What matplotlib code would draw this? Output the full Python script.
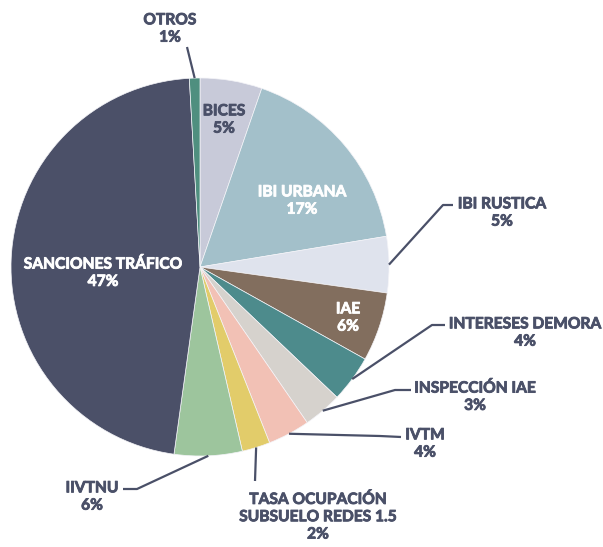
import matplotlib
matplotlib.use("Agg")
import matplotlib.pyplot as plt
import matplotlib.patheffects as pe
import numpy as np

categories = ["BICES", "IBI URBANA", "IBI RUSTICA", "IAE", "INTERESES DEMORA",
              "INSPECCIÓN IAE", "IVTM", "TASA OCUPACIÓN\nSUBSUELO REDES 1.5",
              "IIVTNU", "SANCIONES TRÁFICO", "OTROS"]
values = [5.3, 17.1, 4.8, 5.9, 4.0, 3.3, 3.6, 2.4, 5.8, 46.9, 0.9]
colors = ["#c8cad9", "#a3c0ca", "#dfe3ed", "#826e5e", "#4d8b8c", "#d6d2cd",
          "#f2c1b5", "#e2cc6a", "#9dc59d", "#4b5068", "#4f8f7f"]

W, H = 603, 547
fig = plt.figure(figsize=(W / 100, H / 100), dpi=100)
ax = fig.add_axes([0, 0, 1, 1])

cx, cy, R = 200, H - 267, 189
wedges, _ = ax.pie(values, colors=colors, startangle=90, counterclock=False,
                   center=(cx, cy), radius=R, frame=True,
                   wedgeprops=dict(edgecolor="#f4f4f8", linewidth=0.5))
ax.set_xlim(0, W)
ax.set_ylim(0, H)
ax.set_aspect("equal")
ax.axis("off")

FONT = ["Lato", "DejaVu Sans"]
dark = "#4a5068"
total = sum(values)

def pct(v):
    return f"{round(v / total * 100):d}%"

# label layout (pixel coords, y from top): text center, elbow points, text color
layout = {
    "OTROS": dict(pos=(170, 29), path=[(187, 47)], color=dark),
    "BICES": dict(pos=(224, 120), path=None, color=dark),
    "IBI URBANA": dict(pos=(302, 201), path=None, color="white"),
    "IBI RUSTICA": dict(pos=(502, 213), path=[(443, 205), (453, 205)], color=dark),
    "IAE": dict(pos=(348, 318), path=None, color="white"),
    "INTERESES DEMORA": dict(pos=(525, 333), path=[(432, 325), (445, 325)], color=dark),
    "INSPECCIÓN IAE": dict(pos=(475, 397), path=[(395, 390), (411, 390)], color=dark),
    "IVTM": dict(pos=(425, 444), path=[(380, 436), (401, 437)], color=dark),
    "TASA OCUPACIÓN\nSUBSUELO REDES 1.5": dict(pos=(318, 517), path=[(255, 481)], color=dark),
    "IIVTNU": dict(pos=(92, 497), path=[(137, 489), (123, 489)], color=dark),
    "SANCIONES TRÁFICO": dict(pos=(103, 273), path=None, color="white"),
}

for w, cat, v in zip(wedges, categories, values):
    L = layout[cat]
    tx, ty = L["pos"]
    ax.text(tx, H - ty, f"{cat}\n{pct(v)}", ha="center", va="center",
            fontsize=11.2, fontweight="bold", color=L["color"], family=FONT,
            linespacing=1.3,
            path_effects=[pe.withStroke(linewidth=0.6, foreground=L["color"])])
    if L["path"]:
        ang = np.deg2rad((w.theta1 + w.theta2) / 2)
        x0 = cx + R * np.cos(ang)
        y0 = cy + R * np.sin(ang)
        xs = [x0] + [p[0] for p in L["path"]]
        ys = [y0] + [H - p[1] for p in L["path"]]
        ax.plot(xs, ys, color=dark, linewidth=1.6, solid_capstyle="butt")

fig.savefig("out.png", dpi=100, facecolor="white")
